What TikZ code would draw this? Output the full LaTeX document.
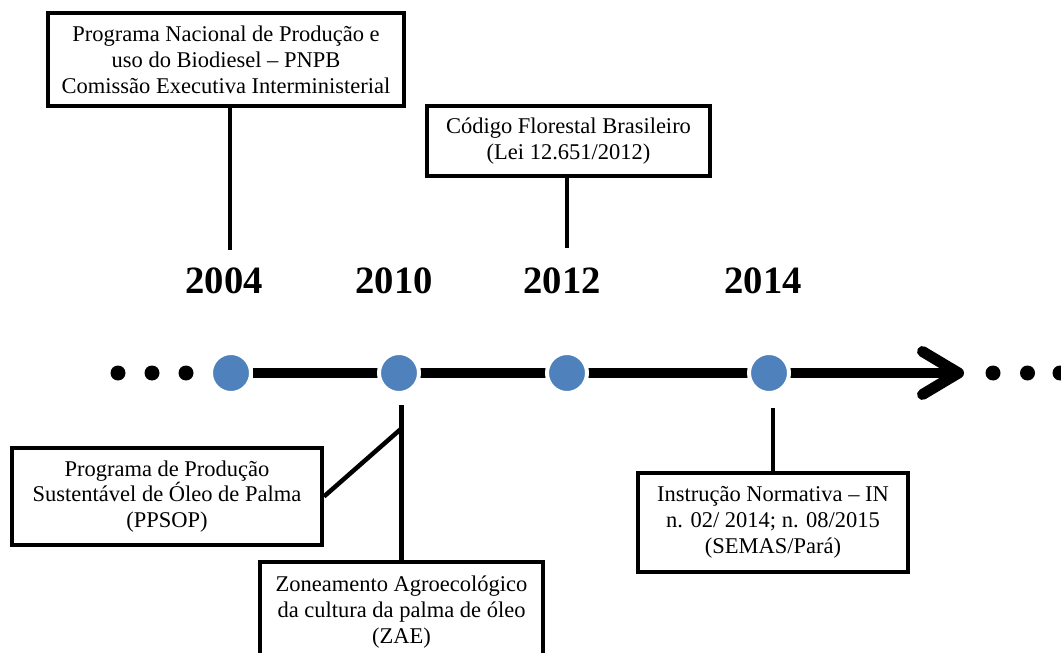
\documentclass[tikz,border=0pt]{standalone}
\usepackage{fontspec}
\setmainfont{Liberation Serif}
\usetikzlibrary{arrows.meta,positioning,backgrounds,shadows}
\definecolor{markblue}{RGB}{79,129,189}
\tikzset{
  eventbox/.style={draw, line width=0.08cm, fill=white, align=center,
    inner sep=2pt, font=\fontsize{12.8}{14.7}\selectfont},
  yearlbl/.style={font=\fontsize{22}{24}\selectfont\bfseries},
  yearmark/.style={circle, fill=markblue, draw=white, line width=0.08cm,
    minimum size=0.8cm, inner sep=0pt,
    drop shadow={shadow xshift=0.2pt, shadow yshift=-0.6pt, opacity=0.4}},
  dotmark/.style={circle, fill=black, minimum size=0.3cm, inner sep=0pt},
  stem/.style={line width=0.09cm},
  timeline/.style={line width=0.2cm,
    -{Straight Barb[length=0.72cm, width=0.86cm, line width=0.22cm, round]}}
}

\begin{document}
\begin{tikzpicture}
  \useasboundingbox (0,0) rectangle (21.22,13.04);
  \clip (0,0) rectangle (21.22,13.04);

  % events above the line
  \node[eventbox, minimum width=7.12cm, minimum height=1.86cm] (pnpb) at (4.52, 11.85)
    {Programa Nacional de Produção e\\uso do Biodiesel -- PNPB\\Comissão Executiva Interministerial};
  \node[eventbox, minimum width=5.66cm, minimum height=1.40cm] (codigo) at (11.37, 10.22)
    {Código Florestal Brasileiro\\(Lei 12.651/2012)};

  % years
  \node[yearlbl] (y2004) at (4.48, 7.42) {2004};
  \node[yearlbl] (y2010) at (7.88, 7.42) {2010};
  \node[yearlbl] (y2012) at (11.24, 7.42) {2012};
  \node[yearlbl] (y2014) at (15.26, 7.42) {2014};

  % time line
  \node[yearmark] (c2004) at (4.62, 5.58) {};
  \node[yearmark] (c2010) at (7.98, 5.58) {};
  \node[yearmark] (c2012) at (11.34, 5.58) {};
  \node[yearmark] (c2014) at (15.38, 5.58) {};
  \coordinate (tip) at (19.28, 5.58);
  \foreach \x [count=\i] in {2.36, 3.04, 3.72, 19.86, 20.55, 21.2}
    \node[dotmark] (d\i) at (\x, 5.58) {};

  % events below the line
  \node[eventbox, minimum width=6.2cm, minimum height=1.94cm] (ppsop) at (3.34, 3.11)
    {Programa de Produção\\Sustentável de Óleo de Palma\\(PPSOP)};
  \node[eventbox, minimum width=5.66cm, minimum height=2.0cm] (zae) at (8.03, 0.80)
    {Zoneamento Agroecológico\\da cultura da palma de óleo\\(ZAE)};
  \node[eventbox, minimum width=5.4cm, minimum height=1.98cm] (in2014) at (15.46, 2.59)
    {Instrução Normativa -- IN\\n. 02/ 2014; n. 08/2015\\(SEMAS/Pará)};

  \coordinate (e2004) at (4.60, 8.04);
  \coordinate (e2012) at (11.34, 8.08);
  \coordinate (j2010) at (8.04, 4.48);

  \begin{scope}[on background layer]
    \draw[timeline] (c2004) -- (tip);
    \draw[stem] (pnpb.south -| e2004) -- (e2004);
    \draw[stem] (codigo.south -| e2012) -- (e2012);
    \draw[stem, shorten <=0.2cm] (c2010.south -| zae.north) -- (zae.north);
    \draw[stem] (ppsop.east) -- (j2010);
    \draw[stem, shorten <=0.26cm] (c2014.south -| in2014.north) -- (in2014.north);
  \end{scope}

\end{tikzpicture}
\end{document}
